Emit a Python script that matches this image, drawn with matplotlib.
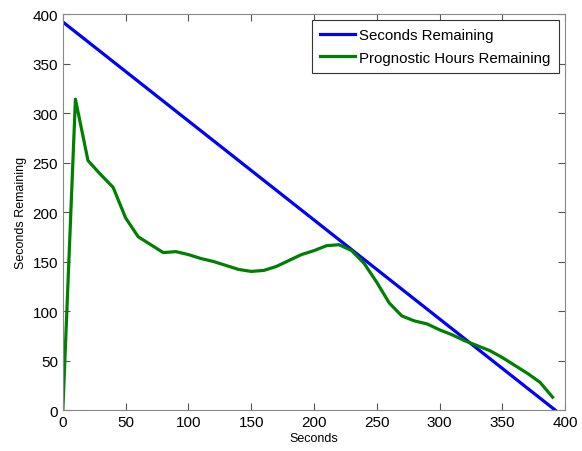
import matplotlib
matplotlib.use("Agg")
import matplotlib.pyplot as plt
import numpy as np

plt.rcParams['font.family'] = ['Liberation Sans', 'DejaVu Sans']

time_blue = list(range(0, 400, 10)) + [392]
seconds_remaining = [392 - t for t in time_blue]

time_green = list(range(0, 400, 10))
prognostic = [0, 314, 252, 238, 225, 194, 175, 167, 159, 160,
              157, 153, 150, 146, 142, 140, 141, 145, 151, 157,
              161, 166, 167, 161, 148, 129, 108, 95, 90, 87,
              81, 76, 70, 65, 60, 53, 45, 37, 28, 13]

fig = plt.figure(figsize=(5.82, 4.52), dpi=100)
ax = fig.add_axes([0.108, 0.0907, 0.863, 0.876])

ax.plot(time_blue, seconds_remaining, color=(0, 0, 1), lw=2.3, label='Seconds Remaining')
ax.plot(time_green, prognostic, color=(0, 0.5, 0), lw=2.3, label='Prognostic Hours Remaining')

ax.set_xlim(0, 400)
ax.set_ylim(0, 400)
ax.set_xticks(range(0, 401, 50))
ax.set_yticks(range(0, 401, 50))
ax.tick_params(direction='in', top=True, right=True, labelsize=11, length=5, color='#555555')
for s in ax.spines.values():
    s.set_color('#888888')
    s.set_linewidth(0.8)
ax.set_xlabel('Seconds', fontsize=9, labelpad=2)
ax.set_ylabel('Seconds Remaining', fontsize=9, labelpad=4)

leg = ax.legend(loc='upper right', fontsize=10.8, fancybox=False, framealpha=1,
                edgecolor='#333333', handlelength=2.3, borderpad=0.55,
                labelspacing=0.55, handletextpad=0.3, borderaxespad=0.4)
leg.get_frame().set_linewidth(0.8)

fig.savefig('out.png', dpi=100)
